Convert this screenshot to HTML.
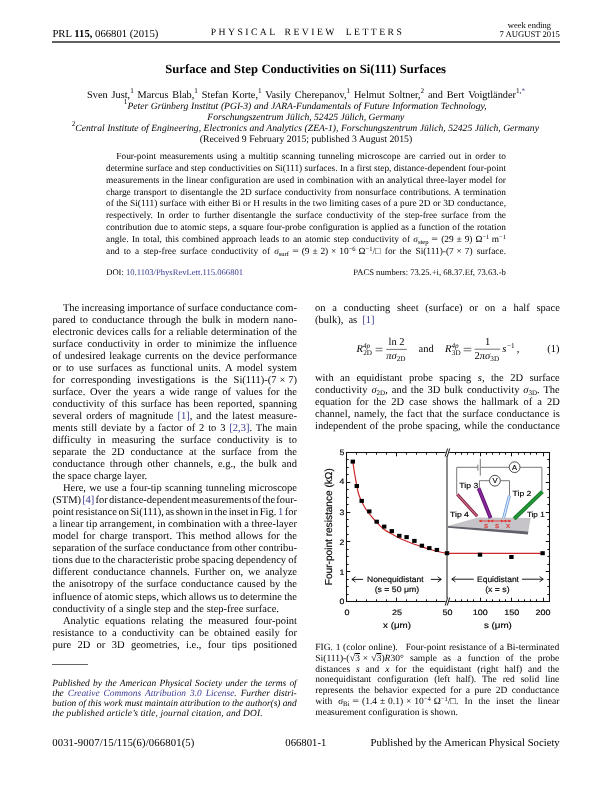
<!DOCTYPE html>
<html><head><meta charset="utf-8"><style>
html,body{margin:0;padding:0;background:#fff;}
body{width:612px;height:792px;position:relative;overflow:hidden;color:#000;will-change:transform;}
body>div{position:absolute;white-space:nowrap;line-height:0;}
a,.lk{color:#3a3a8e;text-decoration:none;}
sup,sub{line-height:0;}
i{font-style:italic;}
</style></head><body>
<div style="left:52.40px;top:34px;text-rendering:geometricPrecision;font-family:'Liberation Serif', serif;font-size:10.7px;">PRL <b>115,</b> 066801 (2015)</div>
<div style="left:210.70px;top:33px;text-rendering:geometricPrecision;font-family:'Liberation Serif', serif;font-size:9.7px;letter-spacing:2.45px;">PHYSICAL</div>
<div style="left:284.60px;top:33px;text-rendering:geometricPrecision;font-family:'Liberation Serif', serif;font-size:9.7px;letter-spacing:2.45px;">REVIEW</div>
<div style="left:345.70px;top:33px;text-rendering:geometricPrecision;font-family:'Liberation Serif', serif;font-size:9.7px;letter-spacing:2.45px;">LETTERS</div>
<div style="left:507.80px;top:25px;text-rendering:geometricPrecision;font-family:'Liberation Serif', serif;font-size:8.5px;">week ending</div>
<div style="left:499.57px;top:34px;text-rendering:geometricPrecision;font-family:'Liberation Serif', serif;font-size:8.5px;"><span style='font-size:8.65px'>7 AUGUST 2015</span></div>
<div style="left:165.30px;top:69px;text-rendering:geometricPrecision;font-family:'Liberation Serif', serif;font-size:12.65px;font-weight:bold;word-spacing:0.312px;">Surface and Step Conductivities on Si(111) Surfaces</div>
<div style="left:87.10px;top:96px;text-rendering:geometricPrecision;font-family:'Liberation Serif', serif;font-size:10.3px;word-spacing:1.276px;">Sven Just,<span style='font-size:7.2px;position:relative;top:-4.8px'>1</span> Marcus Blab,<span style='font-size:7.2px;position:relative;top:-4.8px'>1</span> Stefan Korte,<span style='font-size:7.2px;position:relative;top:-4.8px'>1</span> Vasily Cherepanov,<span style='font-size:7.2px;position:relative;top:-4.8px'>1</span> Helmut Soltner,<span style='font-size:7.2px;position:relative;top:-4.8px'>2</span> and Bert Voigtländer<span style='font-size:7.2px;position:relative;top:-4.8px'>1,<span class=lk>*</span></span></div>
<div style="left:123.80px;top:107px;text-rendering:geometricPrecision;font-family:'Liberation Serif', serif;font-size:9.6px;font-style:italic;word-spacing:0.299px;"><span style='font-size:7.2px;position:relative;top:-4.8px'><span style='font-style:normal'>1</span></span>Peter Grünberg Institut (PGI-3) and JARA-Fundamentals of Future Information Technology,</div>
<div style="left:207.30px;top:118px;text-rendering:geometricPrecision;font-family:'Liberation Serif', serif;font-size:9.6px;font-style:italic;word-spacing:-0.047px;">Forschungszentrum Jülich, 52425 Jülich, Germany</div>
<div style="left:71.70px;top:129px;text-rendering:geometricPrecision;font-family:'Liberation Serif', serif;font-size:9.6px;font-style:italic;word-spacing:0.176px;"><span style='font-size:7.2px;position:relative;top:-4.8px'><span style='font-style:normal'>2</span></span>Central Institute of Engineering, Electronics and Analytics (ZEA-1), Forschungszentrum Jülich, 52425 Jülich, Germany</div>
<div style="left:199.80px;top:140px;text-rendering:geometricPrecision;font-family:'Liberation Serif', serif;font-size:9.75px;word-spacing:0.053px;">(Received 9 February 2015; published 3 August 2015)</div>
<div style="left:116.30px;top:157px;text-rendering:geometricPrecision;font-family:'Liberation Serif', serif;font-size:9.35px;word-spacing:1.307px;">Four-point measurements using a multitip scanning tunneling microscope are carried out in order to</div>
<div style="left:106.00px;top:169px;text-rendering:geometricPrecision;font-family:'Liberation Serif', serif;font-size:9.35px;word-spacing:0.040px;">determine surface and step conductivities on Si(111) surfaces. In a first step, distance-dependent four-point</div>
<div style="left:106.00px;top:181px;text-rendering:geometricPrecision;font-family:'Liberation Serif', serif;font-size:9.35px;word-spacing:0.327px;">measurements in the linear configuration are used in combination with an analytical three-layer model for</div>
<div style="left:106.00px;top:193px;text-rendering:geometricPrecision;font-family:'Liberation Serif', serif;font-size:9.35px;word-spacing:0.674px;">charge transport to disentangle the 2D surface conductivity from nonsurface contributions. A termination</div>
<div style="left:106.00px;top:204px;text-rendering:geometricPrecision;font-family:'Liberation Serif', serif;font-size:9.35px;word-spacing:0.077px;">of the Si(111) surface with either Bi or H results in the two limiting cases of a pure 2D or 3D conductance,</div>
<div style="left:106.00px;top:216px;text-rendering:geometricPrecision;font-family:'Liberation Serif', serif;font-size:9.35px;word-spacing:1.725px;">respectively. In order to further disentangle the surface conductivity of the step-free surface from the</div>
<div style="left:106.00px;top:228px;text-rendering:geometricPrecision;font-family:'Liberation Serif', serif;font-size:9.35px;word-spacing:0.377px;">contribution due to atomic steps, a square four-probe configuration is applied as a function of the rotation</div>
<div style="left:106.00px;top:240px;text-rendering:geometricPrecision;font-family:'Liberation Serif', serif;font-size:9.35px;word-spacing:0.987px;">angle. In total, this combined approach leads to an atomic step conductivity of <i>σ</i><span style='font-size:6.6px;position:relative;top:2px'>step</span><span style='margin:0 3.7px;display:inline-block;transform:scaleX(1.25)'>=</span>(29<span style='margin:0 2.9px'>±</span>9)<span style='margin-left:3px'>Ω</span><span style='font-size:6.5px;position:relative;top:-3.5px'>−1</span><span style='margin-left:2.5px'>m</span><span style='font-size:6.5px;position:relative;top:-3.5px'>−1</span></div>
<div style="left:106.00px;top:252px;text-rendering:geometricPrecision;font-family:'Liberation Serif', serif;font-size:9.35px;word-spacing:1.822px;">and to a step-free surface conductivity of <i>σ</i><span style='font-size:6.6px;position:relative;top:2px'>surf</span><span style='margin:0 3.7px;display:inline-block;transform:scaleX(1.25)'>=</span>(9<span style='margin:0 2.9px'>±</span>2)<span style='margin:0 2.9px'>×</span>10<span style='font-size:6.5px;position:relative;top:-3.5px'>−6</span><span style='margin-left:3px'>Ω</span><span style='font-size:6.5px;position:relative;top:-3.5px'>−1</span>/□ for the Si(111)-(7<span style='margin:0 2.9px'>×</span>7) surface.</div>
<div style="left:106.20px;top:272px;text-rendering:geometricPrecision;font-family:'Liberation Serif', serif;font-size:8.6px;">DOI: <span class=lk>10.1103/PhysRevLett.115.066801</span></div>
<div style="left:353.25px;top:272px;text-rendering:geometricPrecision;font-family:'Liberation Serif', serif;font-size:8.6px;">PACS numbers: 73.25.+i, 68.37.Ef, 73.63.-b</div>
<div style="left:62.90px;top:309px;text-rendering:geometricPrecision;font-family:'Liberation Serif', serif;font-size:10.5px;word-spacing:-0.244px;">The increasing importance of surface conductance com-</div>
<div style="left:52.40px;top:321px;text-rendering:geometricPrecision;font-family:'Liberation Serif', serif;font-size:10.5px;word-spacing:1.417px;">pared to conductance through the bulk in modern nano-</div>
<div style="left:52.40px;top:333px;text-rendering:geometricPrecision;font-family:'Liberation Serif', serif;font-size:10.5px;word-spacing:0.401px;">electronic devices calls for a reliable determination of the</div>
<div style="left:52.40px;top:345px;text-rendering:geometricPrecision;font-family:'Liberation Serif', serif;font-size:10.5px;word-spacing:1.912px;">surface conductivity in order to minimize the influence</div>
<div style="left:52.40px;top:357px;text-rendering:geometricPrecision;font-family:'Liberation Serif', serif;font-size:10.5px;word-spacing:1.001px;">of undesired leakage currents on the device performance</div>
<div style="left:52.40px;top:369px;text-rendering:geometricPrecision;font-family:'Liberation Serif', serif;font-size:10.5px;word-spacing:2.162px;">or to use surfaces as functional units. A model system</div>
<div style="left:52.40px;top:381px;text-rendering:geometricPrecision;font-family:'Liberation Serif', serif;font-size:10.5px;word-spacing:3.517px;">for corresponding investigations is the Si(111)-(7<span style='margin:0 2.9px'>×</span>7)</div>
<div style="left:52.40px;top:393px;text-rendering:geometricPrecision;font-family:'Liberation Serif', serif;font-size:10.5px;word-spacing:2.041px;">surface. Over the years a wide range of values for the</div>
<div style="left:52.40px;top:405px;text-rendering:geometricPrecision;font-family:'Liberation Serif', serif;font-size:10.5px;word-spacing:1.452px;">conductivity of this surface has been reported, spanning</div>
<div style="left:52.40px;top:417px;text-rendering:geometricPrecision;font-family:'Liberation Serif', serif;font-size:10.5px;word-spacing:1.382px;">several orders of magnitude <span class=lk>[1]</span>, and the latest measure-</div>
<div style="left:52.40px;top:429px;text-rendering:geometricPrecision;font-family:'Liberation Serif', serif;font-size:10.5px;word-spacing:1.249px;">ments still deviate by a factor of 2 to 3 <span class=lk>[2,3]</span>. The main</div>
<div style="left:52.40px;top:441px;text-rendering:geometricPrecision;font-family:'Liberation Serif', serif;font-size:10.5px;word-spacing:3.519px;">difficulty in measuring the surface conductivity is to</div>
<div style="left:52.40px;top:453px;text-rendering:geometricPrecision;font-family:'Liberation Serif', serif;font-size:10.5px;word-spacing:3.389px;">separate the 2D conductance at the surface from the</div>
<div style="left:52.40px;top:465px;text-rendering:geometricPrecision;font-family:'Liberation Serif', serif;font-size:10.5px;word-spacing:2.244px;">conductance through other channels, e.g., the bulk and</div>
<div style="left:52.40px;top:477px;text-rendering:geometricPrecision;font-family:'Liberation Serif', serif;font-size:10.5px;">the space charge layer.</div>
<div style="left:62.90px;top:489px;text-rendering:geometricPrecision;font-family:'Liberation Serif', serif;font-size:10.5px;word-spacing:0.648px;">Here, we use a four-tip scanning tunneling microscope</div>
<div style="left:52.40px;top:501px;text-rendering:geometricPrecision;font-family:'Liberation Serif', serif;font-size:10.5px;word-spacing:-1.477px;">(STM) <span class=lk>[4]</span> for distance-dependent measurements of the four-</div>
<div style="left:52.40px;top:513px;text-rendering:geometricPrecision;font-family:'Liberation Serif', serif;font-size:10.5px;word-spacing:-1.085px;">point resistance on Si(111), as shown in the inset in Fig. <span class=lk>1</span> for</div>
<div style="left:52.40px;top:525px;text-rendering:geometricPrecision;font-family:'Liberation Serif', serif;font-size:10.5px;word-spacing:-0.075px;">a linear tip arrangement, in combination with a three-layer</div>
<div style="left:52.40px;top:537px;text-rendering:geometricPrecision;font-family:'Liberation Serif', serif;font-size:10.5px;word-spacing:1.864px;">model for charge transport. This method allows for the</div>
<div style="left:52.40px;top:549px;text-rendering:geometricPrecision;font-family:'Liberation Serif', serif;font-size:10.5px;word-spacing:-0.251px;">separation of the surface conductance from other contribu-</div>
<div style="left:52.40px;top:561px;text-rendering:geometricPrecision;font-family:'Liberation Serif', serif;font-size:10.5px;word-spacing:-0.476px;">tions due to the characteristic probe spacing dependency of</div>
<div style="left:52.40px;top:573px;text-rendering:geometricPrecision;font-family:'Liberation Serif', serif;font-size:10.5px;word-spacing:2.121px;">different conductance channels. Further on, we analyze</div>
<div style="left:52.40px;top:585px;text-rendering:geometricPrecision;font-family:'Liberation Serif', serif;font-size:10.5px;word-spacing:1.274px;">the anisotropy of the surface conductance caused by the</div>
<div style="left:52.40px;top:598px;text-rendering:geometricPrecision;font-family:'Liberation Serif', serif;font-size:10.5px;word-spacing:-0.492px;">influence of atomic steps, which allows us to determine the</div>
<div style="left:52.40px;top:610px;text-rendering:geometricPrecision;font-family:'Liberation Serif', serif;font-size:10.5px;">conductivity of a single step and the step-free surface.</div>
<div style="left:62.90px;top:622px;text-rendering:geometricPrecision;font-family:'Liberation Serif', serif;font-size:10.5px;word-spacing:3.417px;">Analytic equations relating the measured four-point</div>
<div style="left:52.40px;top:634px;text-rendering:geometricPrecision;font-family:'Liberation Serif', serif;font-size:10.5px;word-spacing:2.438px;">resistance to a conductivity can be obtained easily for</div>
<div style="left:52.40px;top:646px;text-rendering:geometricPrecision;font-family:'Liberation Serif', serif;font-size:10.5px;word-spacing:3.747px;">pure 2D or 3D geometries, i.e., four tips positioned</div>
<div style="left:315.00px;top:309px;text-rendering:geometricPrecision;font-family:'Liberation Serif', serif;font-size:10.5px;word-spacing:4.103px;">on a conducting sheet (surface) or on a half space</div>
<div style="left:315.00px;top:321px;text-rendering:geometricPrecision;font-family:'Liberation Serif', serif;font-size:10.5px;word-spacing:2.477px;">(bulk), as <span class=lk>[1]</span></div>
<div style="left:315.00px;top:379px;text-rendering:geometricPrecision;font-family:'Liberation Serif', serif;font-size:10.5px;word-spacing:3.807px;">with an equidistant probe spacing <i>s</i>, the 2D surface</div>
<div style="left:315.00px;top:391px;text-rendering:geometricPrecision;font-family:'Liberation Serif', serif;font-size:10.5px;word-spacing:1.303px;">conductivity <i>σ</i><span style='font-size:7px;position:relative;top:2px'>2D</span>, and the 3D bulk conductivity <i>σ</i><span style='font-size:7px;position:relative;top:2px'>3D</span>. The</div>
<div style="left:315.00px;top:403px;text-rendering:geometricPrecision;font-family:'Liberation Serif', serif;font-size:10.5px;word-spacing:2.377px;">equation for the 2D case shows the hallmark of a 2D</div>
<div style="left:315.00px;top:415px;text-rendering:geometricPrecision;font-family:'Liberation Serif', serif;font-size:10.5px;word-spacing:1.094px;">channel, namely, the fact that the surface conductance is</div>
<div style="left:315.00px;top:427px;text-rendering:geometricPrecision;font-family:'Liberation Serif', serif;font-size:10.5px;word-spacing:0.900px;">independent of the probe spacing, while the conductance</div>
<div style="left:315.30px;top:648px;text-rendering:geometricPrecision;font-family:'Liberation Serif', serif;font-size:9.5px;word-spacing:0.305px;">FIG. 1 (color online).&nbsp;&nbsp; Four-point resistance of a Bi-terminated</div>
<div style="left:315.30px;top:659px;text-rendering:geometricPrecision;font-family:'Liberation Serif', serif;font-size:9.5px;word-spacing:3.875px;">Si(111)-(<span style='font-size:10.5px'>√</span><span style='text-decoration:overline'>3</span><span style='margin:0 2.8px'>×</span><span style='font-size:10.5px'>√</span><span style='text-decoration:overline'>3</span>)<i>R</i>30° sample as a function of the probe</div>
<div style="left:315.30px;top:670px;text-rendering:geometricPrecision;font-family:'Liberation Serif', serif;font-size:9.5px;word-spacing:3.505px;">distances <i>s</i> and <i>x</i> for the equidistant (right half) and the</div>
<div style="left:315.30px;top:680px;text-rendering:geometricPrecision;font-family:'Liberation Serif', serif;font-size:9.5px;word-spacing:3.525px;">nonequidistant configuration (left half). The red solid line</div>
<div style="left:315.30px;top:691px;text-rendering:geometricPrecision;font-family:'Liberation Serif', serif;font-size:9.5px;word-spacing:2.078px;">represents the behavior expected for a pure 2D conductance</div>
<div style="left:315.30px;top:702px;text-rendering:geometricPrecision;font-family:'Liberation Serif', serif;font-size:9.5px;word-spacing:3.654px;">with <i>σ</i><span style='font-size:6.8px;position:relative;top:2px'>Bi</span><span style='margin:0 3.7px;display:inline-block;transform:scaleX(1.25)'>=</span>(1.4<span style='margin:0 2.9px'>±</span>0.1)<span style='margin:0 2.9px'>×</span>10<span style='font-size:6.5px;position:relative;top:-3.5px'>−4</span><span style='margin-left:3px'>Ω</span><span style='font-size:6.5px;position:relative;top:-3.5px'>−1</span>/□. In the inset the linear</div>
<div style="left:315.30px;top:713px;text-rendering:geometricPrecision;font-family:'Liberation Serif', serif;font-size:9.5px;">measurement configuration is shown.</div>
<div style="left:52.30px;top:684px;text-rendering:geometricPrecision;font-family:'Liberation Serif', serif;font-size:9.4px;font-style:italic;word-spacing:0.937px;">Published by the American Physical Society under the terms of</div>
<div style="left:52.30px;top:694px;text-rendering:geometricPrecision;font-family:'Liberation Serif', serif;font-size:9.4px;font-style:italic;word-spacing:1.615px;">the <span class=lk>Creative Commons Attribution 3.0 License</span>. Further distri-</div>
<div style="left:52.30px;top:704px;text-rendering:geometricPrecision;font-family:'Liberation Serif', serif;font-size:9.4px;font-style:italic;word-spacing:-0.144px;">bution of this work must maintain attribution to the author(s) and</div>
<div style="left:52.30px;top:714px;text-rendering:geometricPrecision;font-family:'Liberation Serif', serif;font-size:9.4px;font-style:italic;"><span style='letter-spacing:0.13px'>the published article’s title, journal citation, and DOI.</span></div>
<div style="left:52.20px;top:743px;text-rendering:geometricPrecision;font-family:'Liberation Serif', serif;font-size:10.7px;letter-spacing:0.131px;">0031-9007/15/115(6)/066801(5)</div>
<div style="left:285.32px;top:743px;text-rendering:geometricPrecision;font-family:'Liberation Serif', serif;font-size:10.7px;">066801-1</div>
<div style="left:370.61px;top:743px;text-rendering:geometricPrecision;font-family:'Liberation Serif', serif;font-size:10.7px;">Published by the American Physical Society</div>
<div style="left:356.50px;top:350px;text-rendering:geometricPrecision;font-family:'Liberation Serif', serif;font-size:10.5px;"><i>R</i></div>
<div style="left:363.00px;top:346px;text-rendering:geometricPrecision;font-family:'Liberation Serif', serif;font-size:7.2px;"><i>4p</i></div>
<div style="left:363.20px;top:353px;text-rendering:geometricPrecision;font-family:'Liberation Serif', serif;font-size:7.2px;">2D</div>
<div style="left:388.48px;top:343px;text-rendering:geometricPrecision;font-family:'Liberation Serif', serif;font-size:10.5px;">ln 2</div>
<div style="left:386.30px;top:357px;text-rendering:geometricPrecision;font-family:'Liberation Serif', serif;font-size:10.5px;"><i>πσ</i><span style='font-size:7.2px;position:relative;top:2px'>2D</span></div>
<div style="left:418.60px;top:350px;text-rendering:geometricPrecision;font-family:'Liberation Serif', serif;font-size:10.5px;">and</div>
<div style="left:445.00px;top:350px;text-rendering:geometricPrecision;font-family:'Liberation Serif', serif;font-size:10.5px;"><i>R</i></div>
<div style="left:451.40px;top:346px;text-rendering:geometricPrecision;font-family:'Liberation Serif', serif;font-size:7.2px;"><i>4p</i></div>
<div style="left:451.80px;top:353px;text-rendering:geometricPrecision;font-family:'Liberation Serif', serif;font-size:7.2px;">3D</div>
<div style="left:484.98px;top:343px;text-rendering:geometricPrecision;font-family:'Liberation Serif', serif;font-size:10.5px;">1</div>
<div style="left:474.60px;top:357px;text-rendering:geometricPrecision;font-family:'Liberation Serif', serif;font-size:10.5px;">2<i>πσ</i><span style='font-size:7.2px;position:relative;top:2px'>3D</span></div>
<div style="left:502.30px;top:350px;text-rendering:geometricPrecision;font-family:'Liberation Serif', serif;font-size:10.5px;"><i>s</i></div>
<div style="left:506.90px;top:346px;text-rendering:geometricPrecision;font-family:'Liberation Serif', serif;font-size:7.2px;">−1</div>
<div style="left:516.80px;top:350px;text-rendering:geometricPrecision;font-family:'Liberation Serif', serif;font-size:10.5px;">,</div>
<div style="left:547.30px;top:350px;text-rendering:geometricPrecision;font-family:'Liberation Serif', serif;font-size:10.5px;">(1)</div>
<div style="left:52.4px;top:41px;width:507.6px;height:2px;background:#616161"></div>
<div style="left:52px;top:664px;width:36px;height:1px;background:#666"></div>

<svg width='612' height='792' viewBox='0 0 612 792' style='position:absolute;left:0;top:0;text-rendering:geometricPrecision' font-family="'Liberation Sans', sans-serif">
<polygon points='448,526.0 478,517.6 530.7,517.9 528.3,531.4' fill='#c6c4c8'/>
<polygon points='448,526.0 528.3,531.4 527.9,534.5 448,527.8' fill='#62606a'/>
<polyline points='456.7,494 456.7,467.3 477.8,467.3' fill='none' stroke='#7a7a7a' stroke-width='1'/>
<polyline points='480.4,467.3 508.9,467.3' fill='none' stroke='#7a7a7a' stroke-width='1'/>
<polyline points='520.2,467.3 541.9,467.3 541.9,491' fill='none' stroke='#7a7a7a' stroke-width='1'/>
<line x1='477.9' y1='464.6' x2='477.9' y2='470.6' stroke='#7a7a7a' stroke-width='1'/>
<line x1='480.3' y1='458.8' x2='480.3' y2='475.6' stroke='#7a7a7a' stroke-width='1'/>
<polyline points='479.4,488 479.4,480.7 489.3,480.7' fill='none' stroke='#7a7a7a' stroke-width='1'/>
<polyline points='500.5,480.7 509.5,480.7 509.5,496' fill='none' stroke='#7a7a7a' stroke-width='1'/>
<circle cx='514.6' cy='467.2' r='5.4' fill='#fff' stroke='#222' stroke-width='0.8'/>
<text transform='translate(514.60,469.80) scale(1.05,1)' font-size='7.2' text-anchor='middle' fill='#000' stroke='#000' stroke-width='0.16'>A</text>
<circle cx='494.9' cy='480.7' r='5.4' fill='#fff' stroke='#222' stroke-width='0.8'/>
<text transform='translate(494.90,483.30) scale(1.05,1)' font-size='7.2' text-anchor='middle' fill='#000' stroke='#000' stroke-width='0.16'>V</text>
<line x1='457.2' y1='494.3' x2='477.2' y2='516.3' stroke='#7c1834' stroke-width='3.0' stroke-linecap='butt'/>
<line x1='457.2' y1='494.3' x2='477.2' y2='516.3' stroke='#c86a88' stroke-width='1.3'/>
<line x1='478.6' y1='488.2' x2='490.6' y2='518.0' stroke='#661478' stroke-width='3.8' stroke-linecap='butt'/>
<line x1='478.6' y1='488.2' x2='490.6' y2='518.0' stroke='#8a2c9e' stroke-width='1.6'/>
<line x1='509.4' y1='495.6' x2='503.6' y2='518.0' stroke='#6a98d8' stroke-width='2.9' stroke-linecap='butt'/>
<line x1='509.4' y1='495.6' x2='503.6' y2='518.0' stroke='#d6e6ff' stroke-width='1.3'/>
<line x1='542.4' y1='491.6' x2='514.2' y2='518.8' stroke='#16792a' stroke-width='4.0' stroke-linecap='butt'/>
<line x1='542.4' y1='491.6' x2='514.2' y2='518.8' stroke='#249a38' stroke-width='1.8'/>
<line x1='479' y1='521' x2='511' y2='521' stroke='#e03030' stroke-width='0.9'/>
<polygon points='479,521 481.6,519.6 481.6,522.4' fill='#e03030'/>
<polygon points='490.6,521 488.0,519.6 488.0,522.4' fill='#e03030'/>
<polygon points='490.6,521 493.20000000000005,519.6 493.20000000000005,522.4' fill='#e03030'/>
<polygon points='503.6,521 501.0,519.6 501.0,522.4' fill='#e03030'/>
<polygon points='503.6,521 506.20000000000005,519.6 506.20000000000005,522.4' fill='#e03030'/>
<polygon points='511,521 508.4,519.6 508.4,522.4' fill='#e03030'/>
<text transform='translate(486.00,527.60) scale(1.1,1)' font-size='7.6' text-anchor='middle' fill='#e03030' stroke='#e03030' stroke-width='0.16'>s</text>
<text transform='translate(497.20,527.60) scale(1.1,1)' font-size='7.6' text-anchor='middle' fill='#e03030' stroke='#e03030' stroke-width='0.16'>s</text>
<text transform='translate(508.00,527.60) scale(1.1,1)' font-size='7.6' text-anchor='middle' fill='#e03030' stroke='#e03030' stroke-width='0.16'>x</text>
<text transform='translate(450.00,516.80) scale(1.17,1)' font-size='7.4' text-anchor='start' fill='#000' stroke='#000' stroke-width='0.16'>Tip 4</text>
<text transform='translate(459.30,487.50) scale(1.17,1)' font-size='7.4' text-anchor='start' fill='#000' stroke='#000' stroke-width='0.16'>Tip 3</text>
<text transform='translate(512.50,495.80) scale(1.17,1)' font-size='7.4' text-anchor='start' fill='#000' stroke='#000' stroke-width='0.16'>Tip 2</text>
<text transform='translate(526.90,516.90) scale(1.1,1)' font-size='7.4' text-anchor='start' fill='#000' stroke='#000' stroke-width='0.16'>Tip 1</text>
<line x1='447.0' y1='452.5' x2='447.0' y2='601.5' stroke='#707070' stroke-width='1.6'/>
<path d='M352.8,461.6 C353.13,463.77 354.13,470.58 354.8,474.6 C355.47,478.62 356.15,482.43 356.8,485.7 C357.45,488.97 357.88,491.55 358.7,494.2 C359.52,496.85 360.60,499.25 361.7,501.6 C362.80,503.95 364.05,506.28 365.3,508.3 C366.55,510.32 367.35,511.38 369.2,513.7 C371.05,516.02 373.90,519.58 376.4,522.2 C378.90,524.82 381.58,527.42 384.2,529.4 C386.82,531.38 389.60,532.67 392.1,534.1 C394.60,535.53 396.70,536.78 399.2,538.0 C401.70,539.22 404.58,540.35 407.1,541.4 C409.62,542.45 411.80,543.38 414.3,544.3 C416.80,545.22 419.10,545.95 422.1,546.9 C425.10,547.85 429.32,549.15 432.3,550.0 C435.28,550.85 437.55,551.45 440,552.0 C442.45,552.55 445.83,553.08 447,553.3' fill='none' stroke='#cc2a2e' stroke-width='1.2'/>
<line x1='447' y1='553.3' x2='543' y2='553.3' stroke='#cc2a2e' stroke-width='1.2'/>
<rect x='350.60' y='459.60' width='4.4' height='4.0' fill='#000'/>
<rect x='354.60' y='484.00' width='4.4' height='4.0' fill='#000'/>
<rect x='359.50' y='498.90' width='4.4' height='4.0' fill='#000'/>
<rect x='367.10' y='509.40' width='4.4' height='4.0' fill='#000'/>
<rect x='374.50' y='519.70' width='4.4' height='4.0' fill='#000'/>
<rect x='382.00' y='524.60' width='4.4' height='4.0' fill='#000'/>
<rect x='389.60' y='529.10' width='4.4' height='4.0' fill='#000'/>
<rect x='397.10' y='533.80' width='4.4' height='4.0' fill='#000'/>
<rect x='404.40' y='535.10' width='4.4' height='4.0' fill='#000'/>
<rect x='412.20' y='538.90' width='4.4' height='4.0' fill='#000'/>
<rect x='419.70' y='543.70' width='4.4' height='4.0' fill='#000'/>
<rect x='427.10' y='546.10' width='4.4' height='4.0' fill='#000'/>
<rect x='434.70' y='547.90' width='4.4' height='4.0' fill='#000'/>
<rect x='444.80' y='551.20' width='4.4' height='4.0' fill='#000'/>
<rect x='477.80' y='552.70' width='4.4' height='4.0' fill='#000'/>
<rect x='509.20' y='555.00' width='4.4' height='4.0' fill='#000'/>
<rect x='540.40' y='551.20' width='4.4' height='4.0' fill='#000'/>
<rect x='346.5' y='452.5' width='203.00' height='149.00' fill='none' stroke='#111' stroke-width='1.05'/>
<line x1='346.5' y1='601.50' x2='350.3' y2='601.50' stroke='#111' stroke-width='1'/>
<line x1='549.5' y1='601.50' x2='545.7' y2='601.50' stroke='#111' stroke-width='1'/>
<line x1='346.5' y1='594.50' x2='348.6' y2='594.50' stroke='#111' stroke-width='1'/>
<line x1='549.5' y1='594.50' x2='547.4' y2='594.50' stroke='#111' stroke-width='1'/>
<line x1='346.5' y1='586.50' x2='348.6' y2='586.50' stroke='#111' stroke-width='1'/>
<line x1='549.5' y1='586.50' x2='547.4' y2='586.50' stroke='#111' stroke-width='1'/>
<line x1='346.5' y1='579.50' x2='348.6' y2='579.50' stroke='#111' stroke-width='1'/>
<line x1='549.5' y1='579.50' x2='547.4' y2='579.50' stroke='#111' stroke-width='1'/>
<line x1='346.5' y1='571.50' x2='350.3' y2='571.50' stroke='#111' stroke-width='1'/>
<line x1='549.5' y1='571.50' x2='545.7' y2='571.50' stroke='#111' stroke-width='1'/>
<line x1='346.5' y1='564.50' x2='348.6' y2='564.50' stroke='#111' stroke-width='1'/>
<line x1='549.5' y1='564.50' x2='547.4' y2='564.50' stroke='#111' stroke-width='1'/>
<line x1='346.5' y1='556.50' x2='348.6' y2='556.50' stroke='#111' stroke-width='1'/>
<line x1='549.5' y1='556.50' x2='547.4' y2='556.50' stroke='#111' stroke-width='1'/>
<line x1='346.5' y1='549.50' x2='348.6' y2='549.50' stroke='#111' stroke-width='1'/>
<line x1='549.5' y1='549.50' x2='547.4' y2='549.50' stroke='#111' stroke-width='1'/>
<line x1='346.5' y1='541.50' x2='350.3' y2='541.50' stroke='#111' stroke-width='1'/>
<line x1='549.5' y1='541.50' x2='545.7' y2='541.50' stroke='#111' stroke-width='1'/>
<line x1='346.5' y1='534.50' x2='348.6' y2='534.50' stroke='#111' stroke-width='1'/>
<line x1='549.5' y1='534.50' x2='547.4' y2='534.50' stroke='#111' stroke-width='1'/>
<line x1='346.5' y1='526.50' x2='348.6' y2='526.50' stroke='#111' stroke-width='1'/>
<line x1='549.5' y1='526.50' x2='547.4' y2='526.50' stroke='#111' stroke-width='1'/>
<line x1='346.5' y1='519.50' x2='348.6' y2='519.50' stroke='#111' stroke-width='1'/>
<line x1='549.5' y1='519.50' x2='547.4' y2='519.50' stroke='#111' stroke-width='1'/>
<line x1='346.5' y1='512.50' x2='350.3' y2='512.50' stroke='#111' stroke-width='1'/>
<line x1='549.5' y1='512.50' x2='545.7' y2='512.50' stroke='#111' stroke-width='1'/>
<line x1='346.5' y1='504.50' x2='348.6' y2='504.50' stroke='#111' stroke-width='1'/>
<line x1='549.5' y1='504.50' x2='547.4' y2='504.50' stroke='#111' stroke-width='1'/>
<line x1='346.5' y1='497.50' x2='348.6' y2='497.50' stroke='#111' stroke-width='1'/>
<line x1='549.5' y1='497.50' x2='547.4' y2='497.50' stroke='#111' stroke-width='1'/>
<line x1='346.5' y1='489.50' x2='348.6' y2='489.50' stroke='#111' stroke-width='1'/>
<line x1='549.5' y1='489.50' x2='547.4' y2='489.50' stroke='#111' stroke-width='1'/>
<line x1='346.5' y1='482.50' x2='350.3' y2='482.50' stroke='#111' stroke-width='1'/>
<line x1='549.5' y1='482.50' x2='545.7' y2='482.50' stroke='#111' stroke-width='1'/>
<line x1='346.5' y1='474.50' x2='348.6' y2='474.50' stroke='#111' stroke-width='1'/>
<line x1='549.5' y1='474.50' x2='547.4' y2='474.50' stroke='#111' stroke-width='1'/>
<line x1='346.5' y1='467.50' x2='348.6' y2='467.50' stroke='#111' stroke-width='1'/>
<line x1='549.5' y1='467.50' x2='547.4' y2='467.50' stroke='#111' stroke-width='1'/>
<line x1='346.5' y1='459.50' x2='348.6' y2='459.50' stroke='#111' stroke-width='1'/>
<line x1='549.5' y1='459.50' x2='547.4' y2='459.50' stroke='#111' stroke-width='1'/>
<line x1='346.5' y1='452.50' x2='350.3' y2='452.50' stroke='#111' stroke-width='1'/>
<line x1='549.5' y1='452.50' x2='545.7' y2='452.50' stroke='#111' stroke-width='1'/>
<line x1='356.50' y1='601.5' x2='356.50' y2='599.3' stroke='#111' stroke-width='1'/>
<line x1='356.50' y1='452.5' x2='356.50' y2='454.7' stroke='#111' stroke-width='1'/>
<line x1='366.50' y1='601.5' x2='366.50' y2='599.3' stroke='#111' stroke-width='1'/>
<line x1='366.50' y1='452.5' x2='366.50' y2='454.7' stroke='#111' stroke-width='1'/>
<line x1='376.50' y1='601.5' x2='376.50' y2='599.3' stroke='#111' stroke-width='1'/>
<line x1='376.50' y1='452.5' x2='376.50' y2='454.7' stroke='#111' stroke-width='1'/>
<line x1='386.50' y1='601.5' x2='386.50' y2='599.3' stroke='#111' stroke-width='1'/>
<line x1='386.50' y1='452.5' x2='386.50' y2='454.7' stroke='#111' stroke-width='1'/>
<line x1='396.50' y1='601.5' x2='396.50' y2='597.7' stroke='#111' stroke-width='1'/>
<line x1='396.50' y1='452.5' x2='396.50' y2='456.3' stroke='#111' stroke-width='1'/>
<line x1='406.50' y1='601.5' x2='406.50' y2='599.3' stroke='#111' stroke-width='1'/>
<line x1='406.50' y1='452.5' x2='406.50' y2='454.7' stroke='#111' stroke-width='1'/>
<line x1='416.50' y1='601.5' x2='416.50' y2='599.3' stroke='#111' stroke-width='1'/>
<line x1='416.50' y1='452.5' x2='416.50' y2='454.7' stroke='#111' stroke-width='1'/>
<line x1='426.50' y1='601.5' x2='426.50' y2='599.3' stroke='#111' stroke-width='1'/>
<line x1='426.50' y1='452.5' x2='426.50' y2='454.7' stroke='#111' stroke-width='1'/>
<line x1='436.50' y1='601.5' x2='436.50' y2='599.3' stroke='#111' stroke-width='1'/>
<line x1='436.50' y1='452.5' x2='436.50' y2='454.7' stroke='#111' stroke-width='1'/>
<line x1='455.50' y1='601.5' x2='455.50' y2='599.3' stroke='#111' stroke-width='1'/>
<line x1='455.50' y1='452.5' x2='455.50' y2='454.7' stroke='#111' stroke-width='1'/>
<line x1='461.50' y1='601.5' x2='461.50' y2='599.3' stroke='#111' stroke-width='1'/>
<line x1='461.50' y1='452.5' x2='461.50' y2='454.7' stroke='#111' stroke-width='1'/>
<line x1='467.50' y1='601.5' x2='467.50' y2='599.3' stroke='#111' stroke-width='1'/>
<line x1='467.50' y1='452.5' x2='467.50' y2='454.7' stroke='#111' stroke-width='1'/>
<line x1='473.50' y1='601.5' x2='473.50' y2='599.3' stroke='#111' stroke-width='1'/>
<line x1='473.50' y1='452.5' x2='473.50' y2='454.7' stroke='#111' stroke-width='1'/>
<line x1='480.50' y1='601.5' x2='480.50' y2='597.7' stroke='#111' stroke-width='1'/>
<line x1='480.50' y1='452.5' x2='480.50' y2='456.3' stroke='#111' stroke-width='1'/>
<line x1='486.50' y1='601.5' x2='486.50' y2='599.3' stroke='#111' stroke-width='1'/>
<line x1='486.50' y1='452.5' x2='486.50' y2='454.7' stroke='#111' stroke-width='1'/>
<line x1='492.50' y1='601.5' x2='492.50' y2='599.3' stroke='#111' stroke-width='1'/>
<line x1='492.50' y1='452.5' x2='492.50' y2='454.7' stroke='#111' stroke-width='1'/>
<line x1='499.50' y1='601.5' x2='499.50' y2='599.3' stroke='#111' stroke-width='1'/>
<line x1='499.50' y1='452.5' x2='499.50' y2='454.7' stroke='#111' stroke-width='1'/>
<line x1='505.50' y1='601.5' x2='505.50' y2='599.3' stroke='#111' stroke-width='1'/>
<line x1='505.50' y1='452.5' x2='505.50' y2='454.7' stroke='#111' stroke-width='1'/>
<line x1='511.50' y1='601.5' x2='511.50' y2='597.7' stroke='#111' stroke-width='1'/>
<line x1='511.50' y1='452.5' x2='511.50' y2='456.3' stroke='#111' stroke-width='1'/>
<line x1='518.50' y1='601.5' x2='518.50' y2='599.3' stroke='#111' stroke-width='1'/>
<line x1='518.50' y1='452.5' x2='518.50' y2='454.7' stroke='#111' stroke-width='1'/>
<line x1='524.50' y1='601.5' x2='524.50' y2='599.3' stroke='#111' stroke-width='1'/>
<line x1='524.50' y1='452.5' x2='524.50' y2='454.7' stroke='#111' stroke-width='1'/>
<line x1='530.50' y1='601.5' x2='530.50' y2='599.3' stroke='#111' stroke-width='1'/>
<line x1='530.50' y1='452.5' x2='530.50' y2='454.7' stroke='#111' stroke-width='1'/>
<line x1='536.50' y1='601.5' x2='536.50' y2='599.3' stroke='#111' stroke-width='1'/>
<line x1='536.50' y1='452.5' x2='536.50' y2='454.7' stroke='#111' stroke-width='1'/>
<line x1='543.50' y1='601.5' x2='543.50' y2='597.7' stroke='#111' stroke-width='1'/>
<line x1='543.50' y1='452.5' x2='543.50' y2='456.3' stroke='#111' stroke-width='1'/>
<rect x='445.6' y='449.0' width='3.6' height='7' fill='#fff'/>
<line x1='445.2' y1='456.5' x2='447.6' y2='448.5' stroke='#000' stroke-width='0.9'/>
<line x1='447.3' y1='456.5' x2='449.7' y2='448.5' stroke='#000' stroke-width='0.9'/>
<rect x='445.6' y='598.0' width='3.6' height='7' fill='#fff'/>
<line x1='445.2' y1='605.5' x2='447.6' y2='597.5' stroke='#000' stroke-width='0.9'/>
<line x1='447.3' y1='605.5' x2='449.7' y2='597.5' stroke='#000' stroke-width='0.9'/>
<text transform='translate(344.40,603.65) scale(1.12,1)' font-size='7.8' text-anchor='end' fill='#000' stroke='#000' stroke-width='0.16'>0</text>
<text transform='translate(344.40,574.75) scale(1.12,1)' font-size='7.8' text-anchor='end' fill='#000' stroke='#000' stroke-width='0.16'>1</text>
<text transform='translate(344.40,545.05) scale(1.12,1)' font-size='7.8' text-anchor='end' fill='#000' stroke='#000' stroke-width='0.16'>2</text>
<text transform='translate(344.40,514.85) scale(1.12,1)' font-size='7.8' text-anchor='end' fill='#000' stroke='#000' stroke-width='0.16'>3</text>
<text transform='translate(344.40,484.45) scale(1.12,1)' font-size='7.8' text-anchor='end' fill='#000' stroke='#000' stroke-width='0.16'>4</text>
<text transform='translate(344.40,455.15) scale(1.12,1)' font-size='7.8' text-anchor='end' fill='#000' stroke='#000' stroke-width='0.16'>5</text>
<text transform='translate(347.00,614.60) scale(1.15,1)' font-size='7.8' text-anchor='middle' fill='#000' stroke='#000' stroke-width='0.16'>0</text>
<text transform='translate(397.00,614.60) scale(1.15,1)' font-size='7.8' text-anchor='middle' fill='#000' stroke='#000' stroke-width='0.16'>25</text>
<text transform='translate(447.50,614.60) scale(1.15,1)' font-size='7.8' text-anchor='middle' fill='#000' stroke='#000' stroke-width='0.16'>50</text>
<text transform='translate(480.30,614.60) scale(1.15,1)' font-size='7.8' text-anchor='middle' fill='#000' stroke='#000' stroke-width='0.16'>100</text>
<text transform='translate(511.80,614.60) scale(1.15,1)' font-size='7.8' text-anchor='middle' fill='#000' stroke='#000' stroke-width='0.16'>150</text>
<text transform='translate(543.00,614.60) scale(1.15,1)' font-size='7.8' text-anchor='middle' fill='#000' stroke='#000' stroke-width='0.16'>200</text>
<text transform='translate(397.00,627.60) scale(1.17,1)' font-size='8.4' text-anchor='middle' fill='#000' stroke='#000' stroke-width='0.16'>x (μm)</text>
<text transform='translate(497.90,627.60) scale(1.17,1)' font-size='8.4' text-anchor='middle' fill='#000' stroke='#000' stroke-width='0.16'>s (μm)</text>
<text transform='translate(331.90,526.70) rotate(-90) scale(1.0,1)' font-size='10.1' text-anchor='middle' fill='#000' stroke='#000' stroke-width='0.16'>Four-point resistance (kΩ)</text>
<text transform='translate(395.30,581.90) scale(1.06,1)' font-size='8.0' text-anchor='middle' fill='#000' stroke='#000' stroke-width='0.16'>Nonequidistant</text>
<text transform='translate(396.90,592.40) scale(1.09,1)' font-size='8.0' text-anchor='middle' fill='#000' stroke='#000' stroke-width='0.16'>(s = 50 μm)</text>
<text transform='translate(498.00,581.90) scale(1.06,1)' font-size='8.0' text-anchor='middle' fill='#000' stroke='#000' stroke-width='0.16'>Equidistant</text>
<text transform='translate(497.40,592.40) scale(1.09,1)' font-size='8.0' text-anchor='middle' fill='#000' stroke='#000' stroke-width='0.16'>(x = s)</text>
<line x1='363.0' y1='579.4' x2='351.9' y2='579.4' stroke='#000' stroke-width='0.9'/>
<polyline points='355.5,576.8 351.9,579.4 355.5,582.0' fill='none' stroke='#000' stroke-width='0.9'/>
<line x1='430.8' y1='579.4' x2='441.3' y2='579.4' stroke='#000' stroke-width='0.9'/>
<polyline points='437.7,576.8 441.3,579.4 437.7,582.0' fill='none' stroke='#000' stroke-width='0.9'/>
<line x1='473.8' y1='579.2' x2='451.8' y2='579.2' stroke='#000' stroke-width='0.9'/>
<polyline points='455.40000000000003,576.6 451.8,579.2 455.40000000000003,581.8000000000001' fill='none' stroke='#000' stroke-width='0.9'/>
<line x1='521.9' y1='579.2' x2='543.2' y2='579.2' stroke='#000' stroke-width='0.9'/>
<polyline points='539.6,576.6 543.2,579.2 539.6,581.8000000000001' fill='none' stroke='#000' stroke-width='0.9'/>
<line x1='375.6' y1='348.3' x2='382.5' y2='348.3' stroke='#000' stroke-width='0.55'/>
<line x1='375.6' y1='350.8' x2='382.5' y2='350.8' stroke='#000' stroke-width='0.55'/>
<line x1='463.6' y1='348.3' x2='471.3' y2='348.3' stroke='#000' stroke-width='0.55'/>
<line x1='463.6' y1='350.8' x2='471.3' y2='350.8' stroke='#000' stroke-width='0.55'/>
<line x1='386.2' y1='349.4' x2='406.8' y2='349.4' stroke='#000' stroke-width='0.55'/>
<line x1='474.5' y1='349.2' x2='500.2' y2='349.2' stroke='#000' stroke-width='0.55'/>
</svg>
</body></html>
